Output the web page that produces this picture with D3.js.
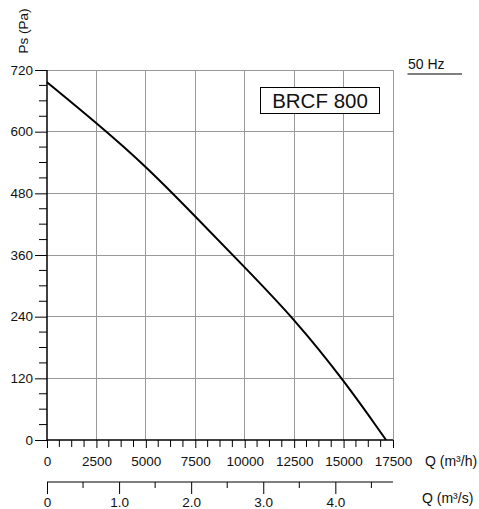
<!DOCTYPE html>
<html><head><meta charset="utf-8">
<script src="https://cdn.jsdelivr.net/npm/d3@7"></script>
<style>body{margin:0;background:#fff;} svg{display:block;} text{font-family:"Liberation Sans",Arial,sans-serif;fill:#111;}</style>
</head><body>
<svg id="c" width="479" height="509"></svg>
<script>
const flowM3h = [0, 2500, 5000, 7500, 10000, 12500, 15000, 17150];
const pressurePa = [696, 617, 533, 435, 336, 236, 117, 0];
const yTicks = [0, 120, 240, 360, 480, 600, 720];
const xTicks = [0, 2500, 5000, 7500, 10000, 12500, 15000, 17500];
const x2Ticks = [0, 1.0, 2.0, 3.0, 4.0];
const modelLabel = "BRCF 800";
const freqLabel = "50 Hz";

const FS = 13.5;
const svg = d3.select("#c");
const x = d3.scaleLinear().domain([0, 17500]).range([47, 393]);
const y = d3.scaleLinear().domain([0, 720]).range([440, 70]);
const x2 = d3.scaleLinear().domain([0, 4.8]).range([47, 393]);

// grid
const grid = svg.append("g").attr("stroke", "#999").attr("stroke-width", 1).attr("shape-rendering","crispEdges");
xTicks.filter(d => d > 0).forEach(d => grid.append("line").attr("x1", x(d)).attr("x2", x(d)).attr("y1", y(720)).attr("y2", y(0)));
yTicks.filter(d => d > 0).forEach(d => grid.append("line").attr("x1", x(0)).attr("x2", x(17500)).attr("y1", y(d)).attr("y2", y(d)));

// y axis
const yAxis = d3.axisLeft(y).tickValues(yTicks).tickSize(12).tickPadding(2).tickFormat(d3.format("d"));
const gy = svg.append("g").attr("transform", `translate(${x(0)},0)`).call(yAxis);
gy.select(".domain").remove();
gy.selectAll("text").attr("font-size", FS).style("font-family","Liberation Sans, Arial, sans-serif");
const yMinor = d3.range(0, 720, 30).filter(d => d % 120 !== 0);
gy.selectAll(".minor").data(yMinor).enter().append("line").attr("class","minor")
  .attr("x1", -8).attr("x2", 0).attr("y1", d => y(d)).attr("y2", d => y(d)).attr("stroke", "#000");
svg.append("line").attr("x1", x(0)).attr("x2", x(0)).attr("y1", y(720)).attr("y2", y(0)).attr("stroke", "#000").attr("stroke-width", 1.5);

// x axis
const xAxis = d3.axisBottom(x).tickValues(xTicks).tickSize(8).tickPadding(8).tickFormat(d3.format("d"));
const gx = svg.append("g").attr("transform", `translate(0,${y(0)})`).call(xAxis);
gx.select(".domain").remove();
gx.selectAll("text").attr("font-size", FS).style("font-family","Liberation Sans, Arial, sans-serif");
const xMinor = d3.range(0, 17500, 625).filter(d => d % 2500 !== 0);
gx.selectAll(".minor").data(xMinor).enter().append("line").attr("class","minor")
  .attr("x1", d => x(d)).attr("x2", d => x(d)).attr("y1", 0).attr("y2", 7).attr("stroke", "#000");
svg.append("line").attr("x1", x(0)).attr("x2", x(17500)).attr("y1", y(0)).attr("y2", y(0)).attr("stroke", "#000").attr("stroke-width", 1.5);
svg.append("text").attr("x", 425).attr("y", 466).attr("font-size", 14).text("Q (m³/h)");

// second x axis
const x2Axis = d3.axisBottom(x2).tickValues(x2Ticks).tickSize(12).tickPadding(3).tickFormat((d, i) => i === 0 ? "0" : d3.format(".1f")(d));
const gx2 = svg.append("g").attr("transform", `translate(0,482)`).call(x2Axis);
gx2.select(".domain").remove();
gx2.selectAll("text").attr("font-size", FS).style("font-family","Liberation Sans, Arial, sans-serif");
const x2Minor = [0.5, 1.5, 2.5, 3.5, 4.5];
gx2.selectAll(".minor").data(x2Minor).enter().append("line").attr("class","minor")
  .attr("x1", d => x2(d)).attr("x2", d => x2(d)).attr("y1", 0).attr("y2", 6).attr("stroke", "#000");
svg.append("line").attr("x1", x2(0)).attr("x2", x2(4.8)).attr("y1", 482).attr("y2", 482).attr("stroke", "#000").attr("stroke-width", 1.2);
svg.append("text").attr("x", 422).attr("y", 503).attr("font-size", 14).text("Q (m³/s)");

// y title
svg.append("text").attr("transform", "translate(28,31) rotate(-90)").attr("text-anchor", "middle").attr("font-size", 13.5).text("Ps (Pa)");

// curve
const pts = flowM3h.map((q, i) => [q, pressurePa[i]]);
svg.append("path").datum(pts)
  .attr("d", d3.line().x(d => x(d[0])).y(d => y(d[1])).curve(d3.curveBasis))
  .attr("fill", "none").attr("stroke", "#000").attr("stroke-width", 2);

// label box
svg.append("rect").attr("x", 260.5).attr("y", 87.5).attr("width", 119).attr("height", 26).attr("fill", "#fff").attr("stroke", "#000").attr("stroke-width", 1);
svg.append("text").attr("x", 320).attr("y", 108).attr("text-anchor", "middle").attr("font-size", 20.5).text(modelLabel);

// 50 Hz
svg.append("text").attr("x", 408).attr("y", 69).attr("font-size", 14).text(freqLabel);
svg.append("line").attr("x1", 407.5).attr("x2", 462).attr("y1", 74).attr("y2", 74).attr("stroke", "#000").attr("stroke-width", 1);
</script>
</body></html>
